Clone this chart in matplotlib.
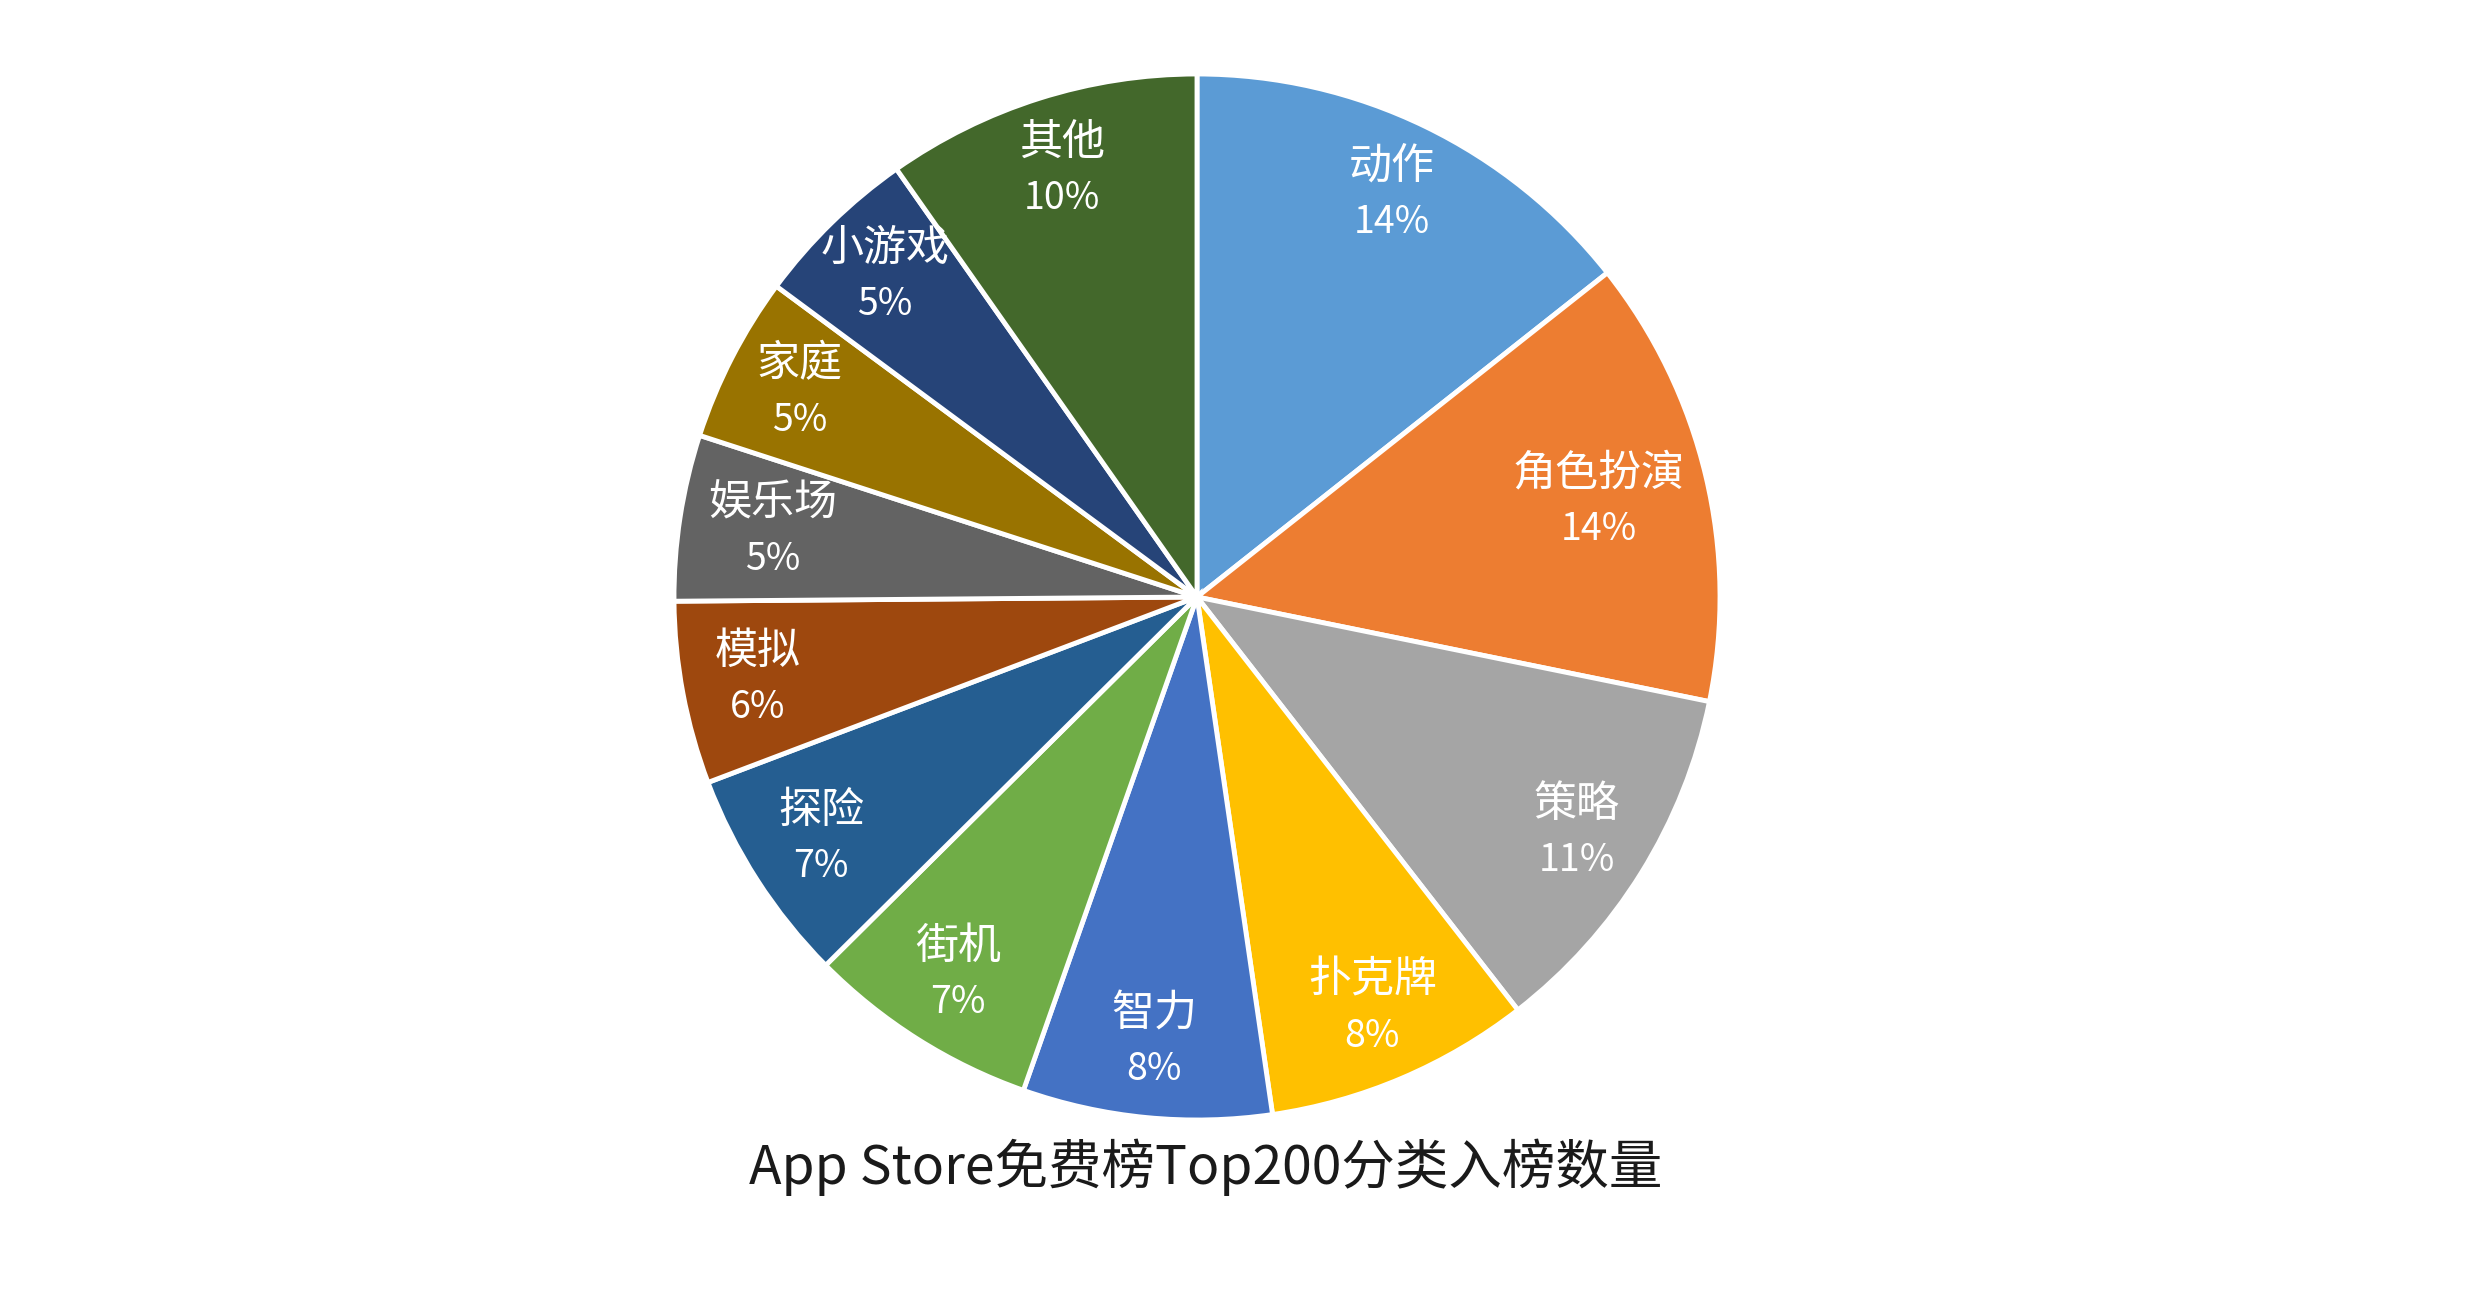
import numpy as np
import matplotlib
matplotlib.use("Agg")
import matplotlib.pyplot as plt

plt.rcParams['font.family'] = ['Noto Sans CJK SC', 'DejaVu Sans']

categories = ['动作', '角色扮演', '策略', '扑克牌', '智力', '街机', '探险', '模拟', '娱乐场', '家庭', '小游戏', '其他']
counts = [28, 27, 22, 16, 15, 14, 13, 11, 10, 10, 10, 19]
colors = ['#5B9BD5', '#ED7D31', '#A5A5A5', '#FFC000', '#4472C4', '#70AD47',
          '#255E91', '#9E480E', '#636363', '#997300', '#264478', '#43682B']
title = 'App Store免费榜Top200分类入榜数量'

W, H = 2479, 1294
fig = plt.figure(figsize=(W / 100, H / 100), dpi=100)
ax = fig.add_axes([0, 0, 1, 1])
R = 523.0
cx, cy = 1197.0, 597.0

wedges, _ = ax.pie(counts, colors=colors, startangle=90, counterclock=False,
                   radius=1.0, wedgeprops=dict(edgecolor='white', linewidth=3.5))

ax.set_xlim(-cx / R, (W - cx) / R)
ax.set_ylim(-(H - cy) / R, cy / R)
ax.set_aspect('equal')
ax.axis('off')

total = sum(counts)
dist = {'角色扮演': 0.79, '娱乐场': 0.82}
for w, name, c in zip(wedges, categories, counts):
    ang = np.deg2rad((w.theta1 + w.theta2) / 2)
    d = dist.get(name, 0.855)
    x, y = d * np.cos(ang), d * np.sin(ang)
    ax.annotate(name, (x, y), xytext=(0, 20), textcoords='offset points',
                ha='center', va='center', fontsize=31, color='white')
    ax.annotate(f'{round(100 * c / total)}%', (x, y), xytext=(0, -20),
                textcoords='offset points', ha='center', va='center',
                fontsize=27, color='white')

fig.text(1206 / W, 1 - 1167 / H, title, ha='center', va='center',
         fontsize=38.5, color='#1a1a1a')

fig.savefig('out.png', dpi=100, facecolor='white')
